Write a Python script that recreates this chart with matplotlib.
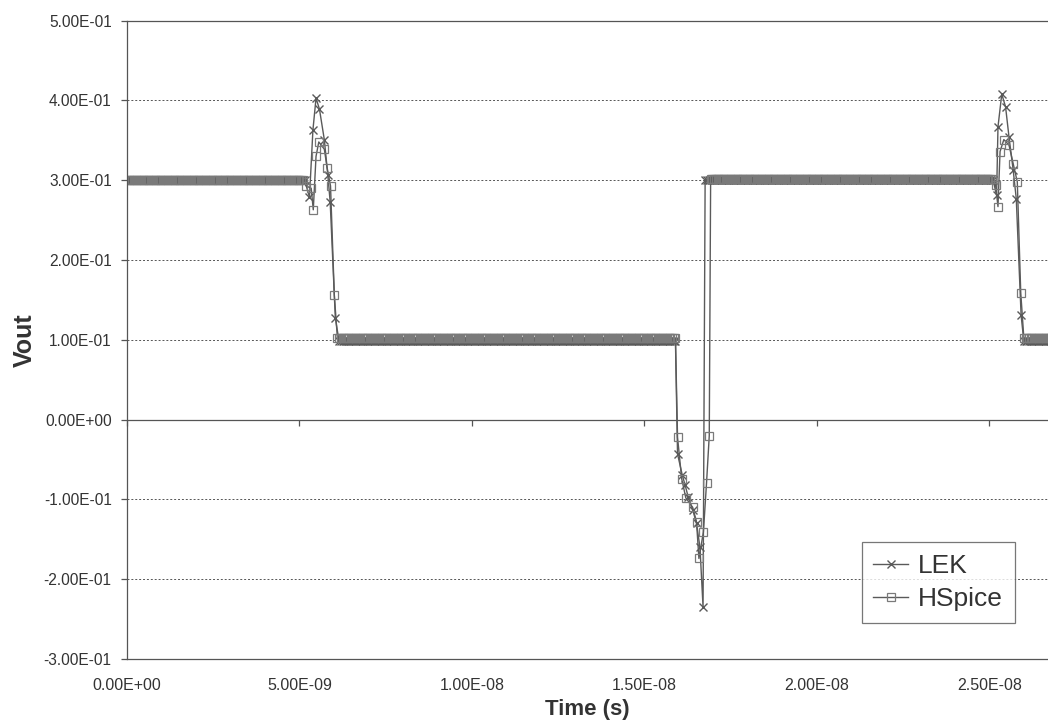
import matplotlib
matplotlib.use("Agg")
import matplotlib.pyplot as plt
import numpy as np
from matplotlib.ticker import FuncFormatter

plt.rcParams['font.family'] = ['Liberation Sans', 'DejaVu Sans']

# time in ns, Vout in V
step = 0.05  # sample spacing of the flat parts

# LEK
lek_lvl = [0.300, 0.098, 0.300, 0.098]
lek_span = [(0.0, 5.2), (6.15, 15.92), (16.76, 25.12), (26.0, 26.9)]
lek_t1 = [5.29, 5.39, 5.48, 5.58, 5.72, 5.82, 5.89, 6.04]
lek_v1 = [0.279, 0.363, 0.403, 0.389, 0.351, 0.307, 0.273, 0.127]
lek_t2 = [15.96, 16.10, 16.18, 16.27, 16.40, 16.51, 16.61, 16.70]
lek_v2 = [-0.043, -0.070, -0.082, -0.097, -0.113, -0.130, -0.160, -0.235]
lek_t3 = [25.21, 25.25, 25.36, 25.47, 25.57, 25.69, 25.78, 25.92]
lek_v3 = [0.281, 0.367, 0.408, 0.392, 0.354, 0.313, 0.277, 0.131]

# HSpice
hs_lvl = [0.300, 0.102, 0.302, 0.102]
hs_span = [(0.0, 5.15), (6.1, 15.92), (16.92, 25.1), (26.0, 26.9)]
hs_t1 = [5.19, 5.34, 5.40, 5.48, 5.56, 5.72, 5.80, 5.90, 6.01]
hs_v1 = [0.293, 0.290, 0.263, 0.330, 0.348, 0.339, 0.316, 0.293, 0.156]
hs_t2 = [15.96, 16.08, 16.20, 16.40, 16.51, 16.58, 16.71, 16.80, 16.88]
hs_v2 = [-0.022, -0.074, -0.098, -0.110, -0.128, -0.174, -0.141, -0.080, -0.020]
hs_t3 = [25.18, 25.25, 25.31, 25.42, 25.57, 25.69, 25.81, 25.91]
hs_v3 = [0.294, 0.267, 0.336, 0.351, 0.344, 0.321, 0.298, 0.159]


def build(lvl, span, trans):
    t, v = [], []
    for i in range(4):
        a, b = span[i]
        tt = np.arange(a, b, step)
        t += list(tt)
        v += [lvl[i]] * len(tt)
        if i < 3:
            t += trans[i][0]
            v += trans[i][1]
    return np.array(t) * 1e-9, np.array(v)


lek_t, lek_v = build(lek_lvl, lek_span, [(lek_t1, lek_v1), (lek_t2, lek_v2), (lek_t3, lek_v3)])
hs_t, hs_v = build(hs_lvl, hs_span, [(hs_t1, hs_v1), (hs_t2, hs_v2), (hs_t3, hs_v3)])

fig = plt.figure(figsize=(10.48, 7.26), dpi=100)
ax = fig.add_axes([127 / 1048, 67 / 726, 921 / 1048, 638.3 / 726])

col = '#5a5a5a'
ax.plot(lek_t, lek_v, color=col, lw=1.0, marker='x', ms=6, mew=1.0, label='LEK')
ax.plot(hs_t, hs_v, color=col, lw=1.0, marker='s', ms=6, mew=0.9,
        mfc='none', mec='#7a7a7a', label='HSpice')

ax.set_xlim(0, 26.7e-9)
ax.set_ylim(-0.3, 0.5)
ax.set_xticks(np.arange(0, 2.6e-8, 5e-9))
ax.set_yticks(np.arange(-0.3, 0.51, 0.1))
fmt = FuncFormatter(lambda x, p: '%.2E' % (0 if abs(x) < 1e-12 else x))
ax.xaxis.set_major_formatter(fmt)
ax.yaxis.set_major_formatter(fmt)

for y in [-0.2, -0.1, 0.1, 0.2, 0.3, 0.4]:
    ax.axhline(y, color='#555555', lw=0.7, ls=(0, (2, 2)), zorder=0)
ax.axhline(0, color='#555555', lw=0.9, zorder=0)

ax.spines['right'].set_visible(False)
for s in ['left', 'top', 'bottom']:
    ax.spines[s].set_color('#555555')
    ax.spines[s].set_linewidth(0.9)

ax.tick_params(axis='x', length=0, pad=14, labelsize=11.5, labelcolor='#333333')
ax.tick_params(axis='y', length=4, width=0.9, color='#555555', pad=7,
               labelsize=11.2, labelcolor='#333333')

# ticks on the zero line
sec = ax.secondary_xaxis(0.375)
sec.set_xticks(np.arange(0, 2.6e-8, 5e-9))
sec.set_xticklabels([])
sec.tick_params(length=4, width=0.9, color='#555555', direction='out')
sec.spines['bottom'].set_visible(False)

ax.set_xlabel('Time (s)', fontsize=16, fontweight='bold', color='#333333', labelpad=4)
ax.set_ylabel('Vout', fontsize=18, fontweight='bold', color='#333333', labelpad=5)

leg = ax.legend(loc='lower right', bbox_to_anchor=(888 / 921, 36 / 638.3),
                fontsize=19, frameon=True, fancybox=False, handlelength=1.3,
                handletextpad=0.4, borderpad=0.45, labelspacing=0.35,
                markerscale=0.9, borderaxespad=0)
leg.get_frame().set_edgecolor('#555555')
leg.get_frame().set_linewidth(0.9)
for t in leg.get_texts():
    t.set_color('#333333')

fig.savefig('out.png', dpi=100)
